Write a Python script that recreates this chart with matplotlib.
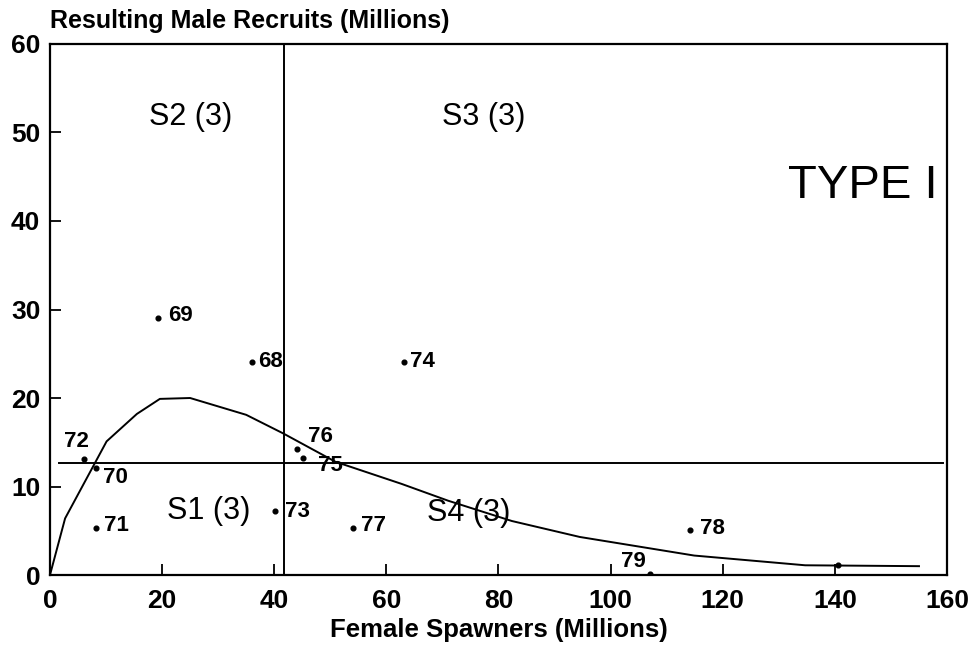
#import modules
import matplotlib
matplotlib.use("Agg")
import matplotlib.pyplot as plt

#fitted recruitment curve
curve_x = [0, 2.7, 10.1, 15.5, 19.6, 25, 35, 41.6, 50.9, 62.7, 71, 82.4, 94.5, 114.9, 134.7, 155]
curve_y = [0, 6.4, 15.1, 18.2, 19.9, 20, 18.1, 16, 12.8, 10.3, 8.4, 6.1, 4.3, 2.2, 1.1, 1.0]

#observed years: spawners vs recruits
years = ["69", "68", "74", "72", "70", "71", "73", "76", "75", "77", "78", "79", ""]
spawners = [19.2, 36.0, 63.1, 6.1, 8.2, 8.2, 40.2, 44.0, 45.2, 54.0, 114.1, 107.1, 140.5]
recruits = [29.0, 24.1, 24.1, 13.1, 12.1, 5.3, 7.2, 14.2, 13.2, 5.3, 5.1, 0.1, 1.1]

#where each year label sits
label_x = [21.0, 37.2, 64.3, 4.8, 9.4, 9.6, 41.9, 48.2, 50.0, 55.4, 115.9, 104.0]
label_y = [29.3, 24.1, 24.1, 15.1, 11.0, 5.6, 7.2, 15.6, 12.4, 5.6, 5.2, 1.5]
label_ha = ["left", "left", "left", "center", "left", "left", "left", "center", "center", "left", "left", "center"]

#quadrant split lines
split_x = 41.7
split_y = 12.7

#quadrant names
quad_names = ["S1 (3)", "S2 (3)", "S3 (3)", "S4 (3)"]
quad_x = [28.3, 25.0, 77.4, 74.7]
quad_y = [7.2, 51.7, 51.7, 7.0]

plt.rcParams["font.family"] = ["Liberation Sans", "DejaVu Sans"]

fig = plt.figure(figsize=(9.74, 6.45), dpi=100)
ax = fig.add_axes([0.0513, 0.1085, 0.9210, 0.8233])

ax.plot(curve_x, curve_y, color="black", lw=1.4)
ax.plot(spawners, recruits, "o", color="black", ms=3.4)
ax.axhline(split_y, xmin=0.01, xmax=0.995, color="black", lw=1.4)
ax.axvline(split_x, color="black", lw=1.4)

for i in range(len(label_x)):
    ax.text(label_x[i], label_y[i], years[i], ha=label_ha[i], va="center",
            fontsize=16, fontweight="bold")

for i in range(len(quad_names)):
    ax.text(quad_x[i], quad_y[i], quad_names[i], ha="center", va="center", fontsize=22)

ax.text(145, 43.9, "TYPE I", ha="center", va="center", fontsize=34)

ax.set_xlim(0, 160)
ax.set_ylim(0, 60)
ax.set_xticks(range(0, 161, 20))
ax.set_yticks(range(0, 61, 10))
ax.tick_params(direction="in", length=8, width=1.3, labelsize=19, pad=10)
ax.tick_params(axis="y", pad=7)
for lab in ax.get_xticklabels() + ax.get_yticklabels():
    lab.set_fontweight("bold")
for sp in ax.spines.values():
    sp.set_linewidth(1.6)

ax.set_xlabel("Female Spawners (Millions)", fontsize=18.5, fontweight="bold", labelpad=4)
fig.text(0.0513, 0.967, "Resulting Male Recruits (Millions)", fontsize=18,
         fontweight="bold", ha="left", va="center")

plt.savefig("out.png", dpi=100)
